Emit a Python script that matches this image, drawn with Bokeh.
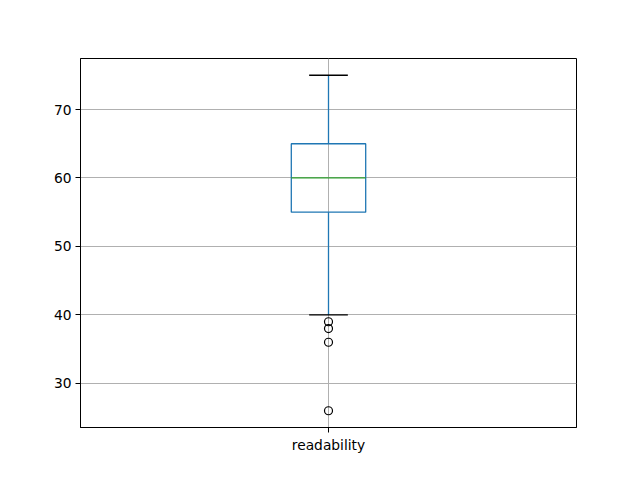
from bokeh.plotting import figure
from bokeh.models import FixedTicker, Range1d
from bokeh.embed import file_html
from bokeh.resources import INLINE

# Box statistics
category = ["readability"]
whisker_low = [40]
q1 = [55]
median = [60]
q3 = [65]
whisker_high = [75]
outliers = [39, 38, 36, 26]

positions = [1]
box_width = 0.15
cap_width = 0.078

p = figure(width=640, height=480, output_backend="svg", toolbar_location=None,
           x_range=Range1d(0.5, 1.5), y_range=Range1d(23.55, 77.45),
           min_border_left=80, min_border_right=64, min_border_top=58, min_border_bottom=53)
p.background_fill_color = "white"
p.border_fill_color = "white"
p.outline_line_color = "black"
p.outline_line_alpha = 1.0
p.outline_line_width = 1

for ax in (p.xaxis[0], p.yaxis[0]):
    ax.axis_line_color = "black"
    ax.major_tick_line_color = "black"
    ax.major_tick_out = 5
    ax.major_tick_in = 0
    ax.minor_tick_line_color = None
    ax.major_label_text_font = "DejaVu Sans"
    ax.major_label_text_font_size = "13.8px"
    ax.major_label_text_color = "black"
    ax.major_label_standoff = 4

p.yaxis[0].ticker = FixedTicker(ticks=[30, 40, 50, 60, 70])
p.xaxis[0].ticker = FixedTicker(ticks=positions)
p.xaxis[0].major_label_overrides = {pos: c for pos, c in zip(positions, category)}

p.xgrid.grid_line_color = "#b0b0b0"
p.ygrid.grid_line_color = "#b0b0b0"
p.xgrid.grid_line_width = 1
p.ygrid.grid_line_width = 1

blue = "#1f77b4"
lw = 1.3

# whiskers
p.segment(x0=positions, y0=q3, x1=positions, y1=whisker_high, line_color=blue, line_width=lw)
p.segment(x0=positions, y0=whisker_low, x1=positions, y1=q1, line_color=blue, line_width=lw)
# caps
p.segment(x0=[x - cap_width / 2 for x in positions], y0=whisker_high,
          x1=[x + cap_width / 2 for x in positions], y1=whisker_high, line_color="black", line_width=lw)
p.segment(x0=[x - cap_width / 2 for x in positions], y0=whisker_low,
          x1=[x + cap_width / 2 for x in positions], y1=whisker_low, line_color="black", line_width=lw)
# box
p.quad(left=[x - box_width / 2 for x in positions], right=[x + box_width / 2 for x in positions],
       bottom=q1, top=q3, fill_color=None, line_color=blue, line_width=lw)
# median
p.segment(x0=[x - box_width / 2 for x in positions], y0=median,
          x1=[x + box_width / 2 for x in positions], y1=median, line_color="#2ca02c", line_width=lw)
# outliers
p.scatter(x=[positions[0]] * len(outliers), y=outliers, marker="circle", size=8,
          fill_color=None, line_color="black", line_width=1.2)

open("out.html", "w").write(file_html(p, INLINE))
